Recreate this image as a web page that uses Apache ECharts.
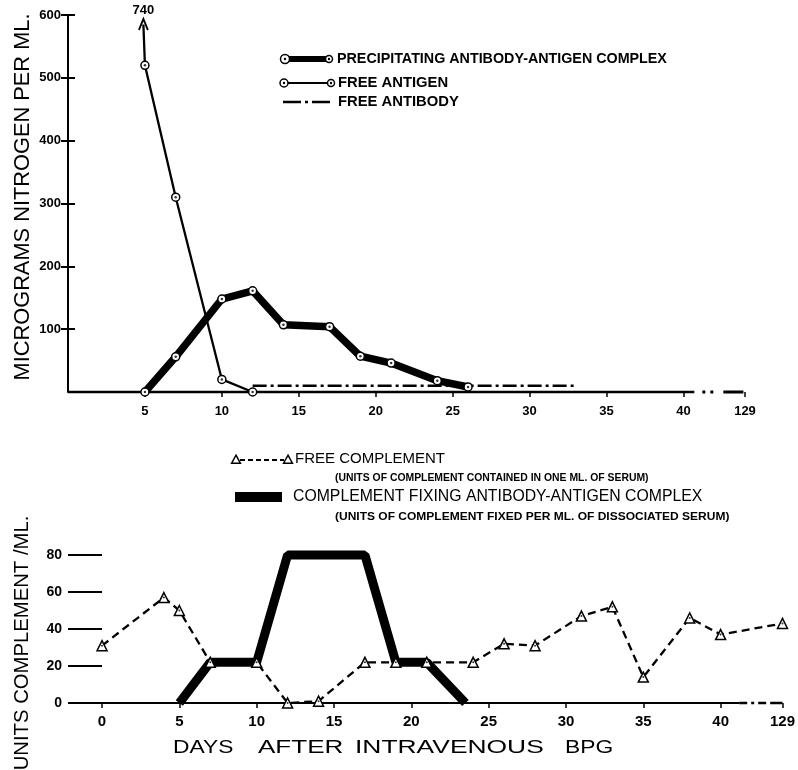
<!DOCTYPE html>
<html><head><meta charset="utf-8">
<script src="https://cdn.jsdelivr.net/npm/echarts@6/dist/echarts.min.js"></script>
<style>html,body{margin:0;padding:0;background:#fff}#c{width:798px;height:770px}</style>
</head><body><div id="c"></div>
<script>
// ---------- DATA ----------
// upper panel (micrograms nitrogen per ml)
const topDayTicks = [5, 10, 15, 20, 25, 30, 35, 40, 129];
const topYTicks = [100, 200, 300, 400, 500, 600];
const precipDays = [5, 7, 10, 12, 14, 17, 19, 21, 24, 26];
const precipVals = [0, 56, 148, 161, 107, 104, 57, 46, 18, 8];
const antigenDays = [4.9, 5, 7, 10, 12];
const antigenVals = [740, 520, 310, 20, 0];
const antibodyDays = [12, 33];
const antibodyVals = [10, 10];
// lower panel (units complement per ml)
const botDayTicks = [0, 5, 10, 15, 20, 25, 30, 35, 40, 129];
const botYTicks = [0, 20, 40, 60, 80];
const complementDays = [0, 4, 5, 7, 10, 12, 14, 17, 19, 21, 24, 26, 28, 31, 33, 35, 38, 40, 129];
const complementVals = [31, 57, 50, 22, 22, 0, 1, 22, 22, 22, 22, 32, 31, 47, 52, 14, 46, 37, 43];
const fixingDays = [5, 7, 10, 12, 17, 19, 21, 23.5];
const fixingVals = [0, 22, 22, 80, 80, 22, 22, 0];

// ---------- LAYOUT HELPERS ----------
const breakDay = 40, breakPos = 44;          // day 129 drawn after an axis break
const pos = d => (d > breakDay ? breakPos : d);
const labelMap = {};
botDayTicks.concat(topDayTicks).forEach(d => { labelMap[pos(d)] = String(d); });
const topYMax = 600, arrowTop = 585;
const F = 'Liberation Sans, Arial, sans-serif';

const precipData = precipDays.map((d, i) => [pos(d), precipVals[i]]);
const antigenData = antigenDays.map((d, i) => {
  const v = antigenVals[i];
  if (v > topYMax) {
    return {
      value: [pos(d), arrowTop],
      symbol: 'path://M0,10 L5,0 L10,10',
      symbolSize: [9, 11],
      itemStyle: { color: 'rgba(0,0,0,0)', borderColor: '#000', borderWidth: 2 },
      label: { show: true, position: 'top', distance: 1, formatter: String(v),
               fontFamily: F, fontWeight: 'bold', fontSize: 13, color: '#000' }
    };
  }
  return [pos(d), v];
});
const antigenDots = antigenDays.map((d, i) => [pos(d), antigenVals[i]]).filter(p => p[1] <= topYMax);
const antibodyData = antibodyDays.map((d, i) => [pos(d), antibodyVals[i]]);
const complementData = complementDays.map((d, i) => [pos(d), complementVals[i]]);
const fixingData = fixingDays.map((d, i) => [pos(d), fixingVals[i]]);

const chart = echarts.init(document.getElementById('c'), null, { renderer: 'canvas' });

const ringStyle = { color: '#fff', borderColor: '#000', borderWidth: 1.5 };
const blk = '#000';

function textEl(x, y, text, font, extra) {
  const el = { type: 'text', x: x, y: y, silent: true,
    style: { text: text, font: font, fill: blk, textAlign: 'left', textVerticalAlign: 'middle' } };
  if (extra) {
    if (extra.align) el.style.textAlign = extra.align;
    if (extra.rotation) el.rotation = extra.rotation;
    if (extra.scaleX) el.scaleX = extra.scaleX;
  }
  return el;
}
function ring(cx, cy, r) {
  return [
    { type: 'circle', shape: { cx: cx, cy: cy, r: r }, style: { fill: '#fff', stroke: blk, lineWidth: 1.5 }, z: 101 },
    { type: 'circle', shape: { cx: cx, cy: cy, r: 1.2 }, style: { fill: blk }, z: 102 }
  ];
}
function tri(cx, cy, s) {
  return { type: 'polygon', shape: { points: [[cx, cy - s * 0.6], [cx + s * 0.55, cy + s * 0.4], [cx - s * 0.55, cy + s * 0.4]] },
    style: { fill: '#fff', stroke: blk, lineWidth: 1.5 }, z: 101 };
}

const graphics = [
  // axis names
  textEl(23, 197, 'MICROGRAMS NITROGEN PER ML.', '21.8px ' + F, { align: 'center', rotation: Math.PI / 2 }),
  textEl(22, 643, 'UNITS COMPLEMENT /ML.', '20.3px ' + F, { align: 'center', rotation: Math.PI / 2 }),
  textEl(173, 748, 'DAYS', '19px ' + F, { scaleX: 1.2 }),
  textEl(258, 748, 'AFTER', '19px ' + F, { scaleX: 1.37 }),
  textEl(355, 748, 'INTRAVENOUS', '19px ' + F, { scaleX: 1.39 }),
  textEl(565, 748, 'BPG', '19px ' + F, { scaleX: 1.2 }),
  // top legend
  { type: 'line', shape: { x1: 285, y1: 59, x2: 329, y2: 59 }, style: { stroke: blk, lineWidth: 6 }, z: 100 },
  ...ring(285, 59, 4.5), ...ring(329, 59, 3.5),
  textEl(337, 59, 'PRECIPITATING ANTIBODY-ANTIGEN COMPLEX', 'bold 14.3px ' + F),
  { type: 'line', shape: { x1: 284, y1: 83, x2: 331, y2: 83 }, style: { stroke: blk, lineWidth: 2 }, z: 100 },
  ...ring(284, 83, 4), ...ring(331, 83, 3.5),
  textEl(338, 83, 'FREE ANTIGEN', 'bold 14.8px ' + F),
  { type: 'line', shape: { x1: 283, y1: 102, x2: 331, y2: 102 }, style: { stroke: blk, lineWidth: 2.5, lineDash: [18, 4, 3, 4] }, z: 100 },
  textEl(338, 102, 'FREE ANTIBODY', 'bold 14.8px ' + F),
  // bottom legend
  { type: 'line', shape: { x1: 240, y1: 460, x2: 284, y2: 460 }, style: { stroke: blk, lineWidth: 1.8, lineDash: [5, 3] }, z: 100 },
  tri(236, 460, 8), tri(288, 460, 8),
  textEl(295, 459, 'FREE COMPLEMENT', '15px ' + F),
  textEl(335, 478, '(UNITS OF COMPLEMENT CONTAINED IN ONE ML. OF SERUM)', 'bold 10px ' + F, { scaleX: 1.04 }),
  { type: 'rect', shape: { x: 235, y: 492, width: 47, height: 10 }, style: { fill: blk }, z: 100 },
  textEl(293, 497, 'COMPLEMENT FIXING ANTIBODY-ANTIGEN COMPLEX', '15.8px ' + F),
  textEl(335, 517, '(UNITS OF COMPLEMENT FIXED PER ML. OF DISSOCIATED SERUM)', 'bold 10px ' + F, { scaleX: 1.2 })
];

const topTickVals = topDayTicks.map(pos);
const botTickVals = botDayTicks.map(pos);

const option = {
  backgroundColor: '#fff',
  animation: false,
  grid: [
    { left: 68, top: 15, width: 677, height: 377 },
    { left: 68, top: 555, width: 716, height: 148 }
  ],
  xAxis: [
    { gridIndex: 0, type: 'value', min: 0, max: breakPos,
      axisLine: { show: false, onZero: false }, splitLine: { show: false },
      axisTick: { show: true, customValues: topTickVals, length: 5, lineStyle: { color: blk, width: 1.5 } },
      axisLabel: { customValues: topTickVals, formatter: v => labelMap[v] || '', color: blk,
                   fontFamily: F, fontWeight: 'bold', fontSize: 13, margin: 13 } },
    { gridIndex: 1, type: 'value', min: -2.2, max: breakPos,
      axisLine: { show: false, onZero: false }, splitLine: { show: false },
      axisTick: { show: true, customValues: botTickVals, length: 5, lineStyle: { color: blk, width: 1.5 } },
      axisLabel: { customValues: botTickVals, formatter: v => labelMap[v] || '', color: blk,
                   fontFamily: F, fontWeight: 'bold', fontSize: 15, margin: 11 } }
  ],
  yAxis: [
    { gridIndex: 0, type: 'value', min: 0, max: topYMax, position: 'left',
      axisLine: { show: true, onZero: false, lineStyle: { color: blk, width: 2 } }, splitLine: { show: false },
      axisTick: { show: true, customValues: topYTicks, length: 7, lineStyle: { color: blk, width: 2 } },
      axisLabel: { customValues: topYTicks, color: blk, fontFamily: F, fontWeight: 'bold', fontSize: 13, margin: 7 } },
    { gridIndex: 0, type: 'value', min: 0, max: topYMax, position: 'left',
      axisLine: { show: false, onZero: false }, splitLine: { show: false },
      axisTick: { show: true, inside: true, customValues: topYTicks, length: 7, lineStyle: { color: blk, width: 2 } },
      axisLabel: { show: false } },
    { gridIndex: 1, type: 'value', min: 0, max: 80, interval: 20, position: 'left',
      axisLine: { show: false, onZero: false }, splitLine: { show: false },
      axisTick: { show: true, inside: true, customValues: botYTicks, length: 34, lineStyle: { color: blk, width: 2 } },
      axisLabel: { customValues: botYTicks, color: blk, fontFamily: F, fontWeight: 'bold', fontSize: 14, margin: 6 } }
  ],
  series: [
    // top panel baseline with break
    { type: 'line', xAxisIndex: 0, yAxisIndex: 0, silent: true, symbol: 'none', clip: false,
      data: [[0, 0], [40.7, 0]], lineStyle: { color: blk, width: 2.5 } },
    { type: 'line', xAxisIndex: 0, yAxisIndex: 0, silent: true, symbol: 'none', clip: false,
      data: [[40.7, 0], [breakPos, 0]], lineStyle: { color: blk, width: 3, type: [0.1, 8, 3, 5, 3, 10, 20, 0] } },
    { name: 'FREE ANTIBODY', type: 'line', xAxisIndex: 0, yAxisIndex: 0, symbol: 'none', clip: false,
      data: antibodyData, lineStyle: { color: blk, width: 2.5, type: [14, 4, 3, 4] } },
    { name: 'FREE ANTIGEN', type: 'line', xAxisIndex: 0, yAxisIndex: 0, clip: false,
      data: antigenData, symbol: 'circle', symbolSize: 8, showAllSymbol: true,
      lineStyle: { color: blk, width: 2.3 }, itemStyle: ringStyle, z: 3 },
    { name: 'PRECIPITATING ANTIBODY-ANTIGEN COMPLEX', type: 'line', xAxisIndex: 0, yAxisIndex: 0, clip: false,
      data: precipData, symbol: 'circle', symbolSize: 8, showAllSymbol: true,
      lineStyle: { color: blk, width: 7.5 }, itemStyle: ringStyle, z: 4 },
    { type: 'scatter', xAxisIndex: 0, yAxisIndex: 0, silent: true, symbolSize: 2.5, clip: false,
      data: precipData.concat(antigenDots), itemStyle: { color: blk }, z: 5 },
    // bottom panel baseline with break
    { type: 'line', xAxisIndex: 1, yAxisIndex: 2, silent: true, symbol: 'none', clip: false,
      data: [[-2.2, 0], [41.2, 0]], lineStyle: { color: blk, width: 2 } },
    { type: 'line', xAxisIndex: 1, yAxisIndex: 2, silent: true, symbol: 'none', clip: false,
      data: [[41.2, 0], [breakPos, 0]], lineStyle: { color: blk, width: 2.5, type: [8, 4, 3, 4, 8, 4, 12, 0] } },
    { name: 'COMPLEMENT FIXING ANTIBODY-ANTIGEN COMPLEX', type: 'line', xAxisIndex: 1, yAxisIndex: 2, clip: false,
      data: fixingData, symbol: 'none', lineStyle: { color: blk, width: 9 }, z: 3 },
    { name: 'FREE COMPLEMENT', type: 'line', xAxisIndex: 1, yAxisIndex: 2, clip: false,
      data: complementData, symbol: 'triangle', symbolSize: 10, showAllSymbol: true,
      lineStyle: { color: blk, width: 2.3, type: [8, 5] }, itemStyle: ringStyle, z: 4 },
    { type: 'scatter', xAxisIndex: 1, yAxisIndex: 2, silent: true, symbolSize: 2, clip: false,
      data: complementData, itemStyle: { color: blk }, z: 5 }
  ],
  graphic: { elements: graphics }
};
chart.setOption(option);
</script></body></html>
